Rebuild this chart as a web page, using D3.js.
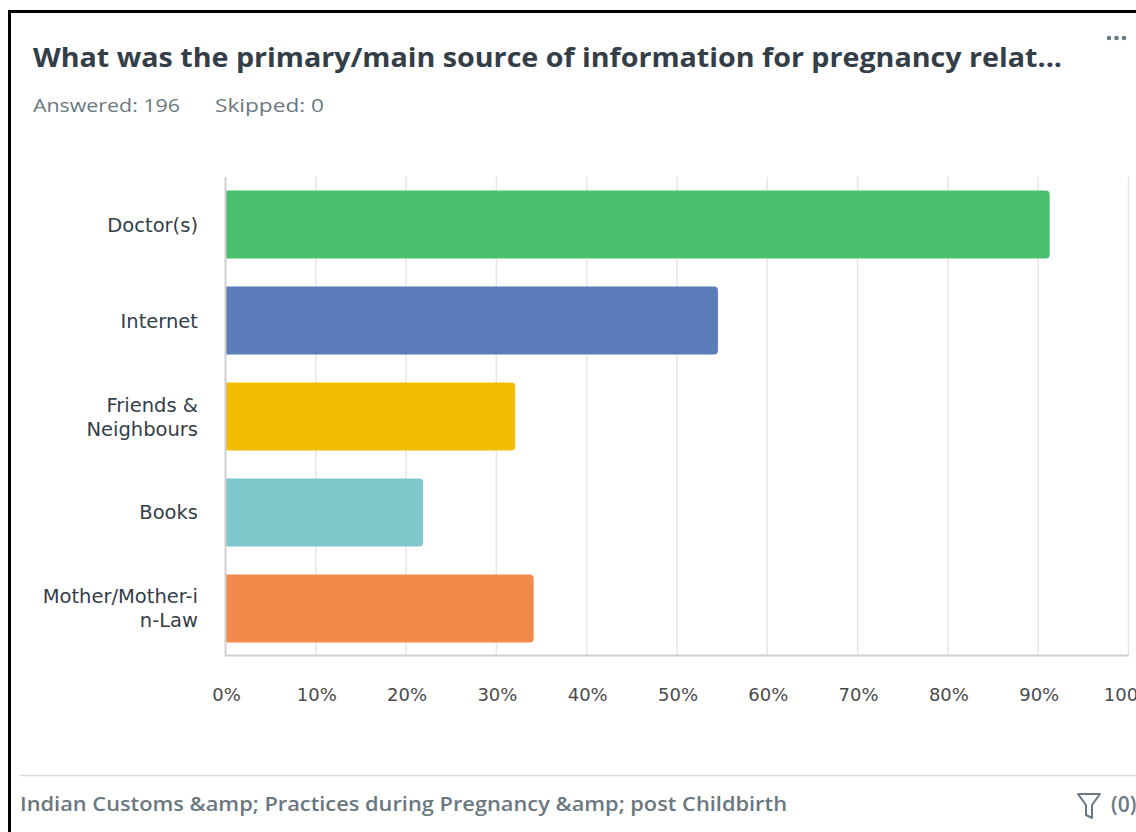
<!DOCTYPE html>
<html>
<head>
<meta charset="utf-8">
<script src="https://cdn.jsdelivr.net/npm/d3@7"></script>
<style>
  body { margin: 0; background: #fff; }
  svg { display: block; }
</style>
</head>
<body>
<svg id="chart" width="1136" height="832"></svg>
<script>
// data
var categories = ["Doctor(s)", "Internet", "Friends & Neighbours", "Books", "Mother/Mother-in-Law"];
var categoryLines = [["Doctor(s)"], ["Internet"], ["Friends &", "Neighbours"], ["Books"], ["Mother/Mother-i", "n-Law"]];
var values = [0.9133, 0.5459, 0.3214, 0.2194, 0.3418];
var colors = ["#4bc06c", "#5a7cb9", "#f0bd00", "#7ec8cb", "#f28a4b"];
var tickValues = [0, 0.1, 0.2, 0.3, 0.4, 0.5, 0.6, 0.7, 0.8, 0.9, 1];

var titleText = "What was the primary/main source of information for pregnancy relat...";
var footerText = "Indian Customs &amp; Practices during Pregnancy &amp; post Childbirth";

var svg = d3.select("#chart");
var narrow = "'Open Sans', 'Noto Sans', sans-serif";
var body = "'DejaVu Sans', 'Noto Sans', sans-serif";

// frame (only top/left visible in the crop)
svg.append("path")
    .attr("d", "M9.5,840 V11.5 H1140")
    .attr("fill", "none")
    .attr("stroke", "#000")
    .attr("stroke-width", 3);

// title
svg.append("text")
    .attr("x", 33).attr("y", 67)
    .attr("textLength", 1029).attr("lengthAdjust", "spacingAndGlyphs")
    .style("font-family", narrow).style("font-weight", 700)
    .style("font-size", "27px").style("fill", "#333e48")
    .text(titleText);

// more menu dots
svg.append("g").selectAll("circle").data([0, 1, 2]).enter().append("circle")
    .attr("cx", function(d) { return 1109 + d * 7.5; })
    .attr("cy", 38).attr("r", 2.3).attr("fill", "#6b787f");

svg.append("text")
    .attr("x", 33).attr("y", 112)
    .attr("textLength", 147).attr("lengthAdjust", "spacingAndGlyphs")
    .style("font-family", narrow).style("font-size", "19px").style("fill", "#6b787f")
    .text("Answered: 196");
svg.append("text")
    .attr("x", 215).attr("y", 112)
    .attr("textLength", 109).attr("lengthAdjust", "spacingAndGlyphs")
    .style("font-family", narrow).style("font-size", "19px").style("fill", "#6b787f")
    .text("Skipped: 0");

// scales
var x = d3.scaleLinear().domain([0, 1]).range([225, 1128]);
var y = d3.scaleBand().domain(categories).range([178, 655]).paddingInner(0.29).paddingOuter(0.13);

// grid
svg.append("g").selectAll("line").data(tickValues.slice(1)).enter().append("line")
    .attr("x1", function(d) { return x(d) + 0.5; })
    .attr("x2", function(d) { return x(d) + 0.5; })
    .attr("y1", 177).attr("y2", 655)
    .attr("stroke", "#e6e6e6").attr("stroke-width", 1.5);

// bars, square on the left, rounded on the right
var r = 4;
svg.append("g").selectAll("path").data(values).enter().append("path")
    .attr("d", function(d, i) {
        var x0 = x(0), x1 = x(d), y0 = y(categories[i]), h = y.bandwidth();
        return "M" + x0 + "," + y0 + "H" + (x1 - r) + "Q" + x1 + "," + y0 + " " + x1 + "," + (y0 + r) +
            "V" + (y0 + h - r) + "Q" + x1 + "," + (y0 + h) + " " + (x1 - r) + "," + (y0 + h) + "H" + x0 + "Z";
    })
    .attr("fill", function(d, i) { return colors[i]; });

// axis lines
svg.append("line").attr("x1", 225.5).attr("x2", 225.5).attr("y1", 177).attr("y2", 656)
    .attr("stroke", "#d0d0d0").attr("stroke-width", 2);
svg.append("line").attr("x1", 225).attr("x2", 1129).attr("y1", 655.5).attr("y2", 655.5)
    .attr("stroke", "#d0d0d0").attr("stroke-width", 2);

// x tick labels via axis
var xAxis = d3.axisBottom(x).tickValues(tickValues).tickFormat(d3.format(".0%")).tickSize(0).tickPadding(0);
var gx = svg.append("g").attr("transform", "translate(1,688)").call(xAxis);
gx.select(".domain").remove();
gx.selectAll("text")
    .style("font-family", body).style("font-size", "18px").style("fill", "#4a4a4a");

// category labels
var labels = svg.append("g").selectAll("text").data(categoryLines).enter().append("text")
    .attr("text-anchor", "end")
    .style("font-family", body).style("font-size", "19.5px").style("fill", "#333e48")
    .attr("transform", function(d, i) {
        var cy = y(categories[i]) + y.bandwidth() / 2;
        return "translate(198," + (cy - (d.length - 1) * 12 + 7) + ")";
    });
labels.selectAll("tspan").data(function(d) { return d; }).enter().append("tspan")
    .attr("x", 0).attr("dy", function(d, i) { return i ? 24 : 0; })
    .text(function(d) { return d; });

// footer
svg.append("line").attr("x1", 20).attr("x2", 1136).attr("y1", 775.5).attr("y2", 775.5)
    .attr("stroke", "#d9d9d9").attr("stroke-width", 1.5);
svg.append("text")
    .attr("x", 20).attr("y", 811)
    .attr("textLength", 767).attr("lengthAdjust", "spacingAndGlyphs")
    .style("font-family", narrow).style("font-weight", 600)
    .style("font-size", "20px").style("fill", "#6b787f")
    .text(footerText);

// filter icon and count
svg.append("path")
    .attr("d", "M1078,794 H1100 L1092,805 V818 L1086,815 V805 Z")
    .attr("fill", "none").attr("stroke", "#6b787f").attr("stroke-width", 2).attr("stroke-linejoin", "round");
svg.append("text")
    .attr("x", 1111).attr("y", 812)
    .style("font-family", narrow).style("font-weight", 600)
    .style("font-size", "21px").style("fill", "#6b787f")
    .text("(0)");
</script>
</body>
</html>
